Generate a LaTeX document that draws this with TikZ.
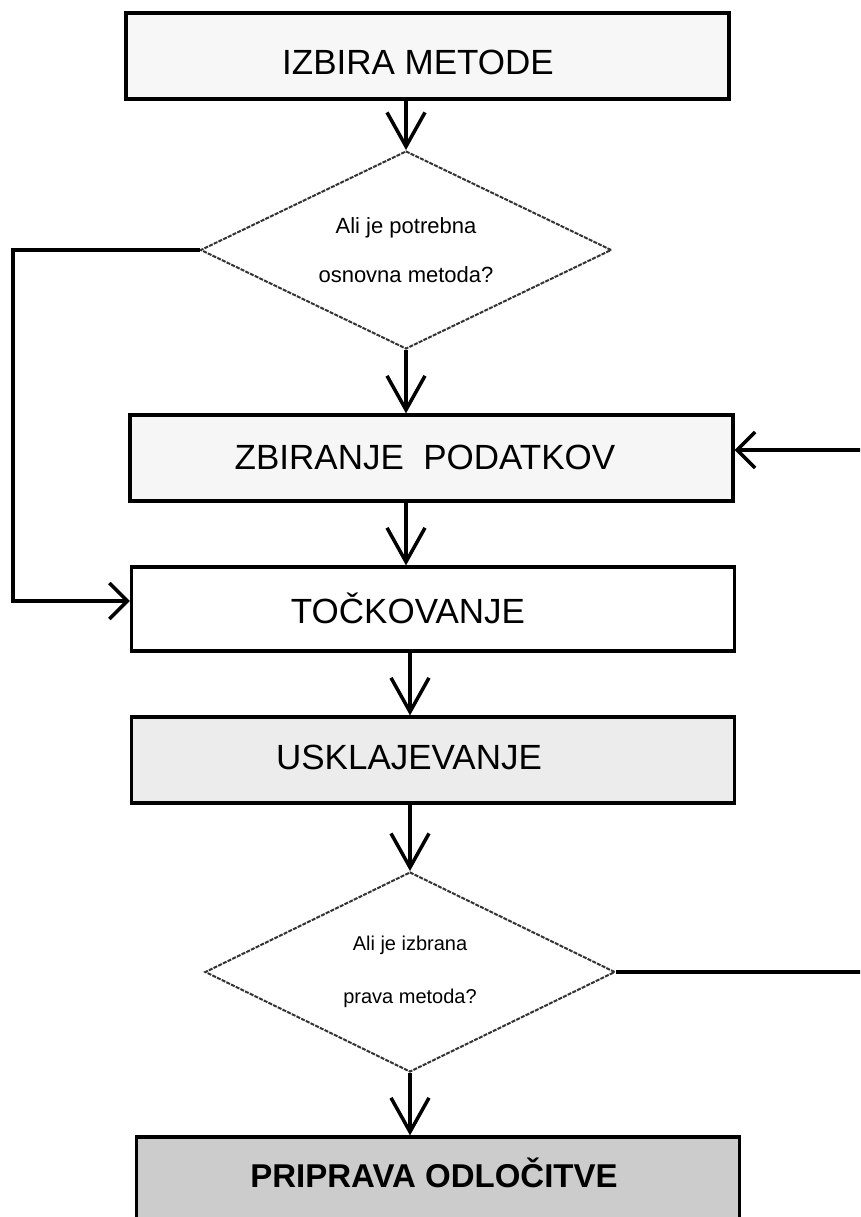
\documentclass[tikz,border=0pt]{standalone}
\usepackage{fontspec}
\setmainfont{Liberation Sans}
\usetikzlibrary{arrows.meta,shapes.geometric}
\begin{document}
\begin{tikzpicture}[x=1pt,y=-1pt,
  box/.style={draw=black, line width=3.2pt, inner sep=0pt, minimum width=603pt, minimum height=86pt},
  lbl/.style={font=\fontsize{35}{40}\selectfont, inner sep=0pt},
  dec/.style={diamond, aspect=2, draw=black!80, line width=2pt, dash pattern=on 4pt off 1.2pt, inner sep=0pt, minimum width=411pt, minimum height=198pt, align=center},
  wire/.style={line width=3.5pt, line join=miter},
  flow/.style={wire, -{Straight Barb[length=34pt,width=38pt]}},
  sidearrow/.style={wire, -{Straight Barb[length=18pt,width=36pt]}}
]
\useasboundingbox (0,0) rectangle (860,1217);
\clip (0,0) rectangle (860,1217);

% boxes
\node[box, fill=gray!6] (b1) at (427.5,56) {};
\node[lbl] (b1t) at (418,62) {IZBIRA METODE};

\node[dec, font=\fontsize{22}{49}\selectfont] (d1) at (406,250) {Ali je potrebna\\osnovna metoda?};

\node[box, fill=gray!7] (zb) at (431.5,458) {};
\node[lbl] (zbt) at (425,457) {ZBIRANJE\ \ PODATKOV};

\node[box, fill=white, minimum height=84pt] (to) at (433,609) {};
\node[lbl] (tot) at (408,608) {TOČKOVANJE};

\node[box, fill=gray!15] (us) at (433,760) {};
\node[lbl] (ust) at (409,757) {USKLAJEVANJE};

\node[dec, font=\fontsize{20}{53}\selectfont, minimum width=410pt, minimum height=200pt] (d2) at (410,972) {Ali je izbrana\\prava metoda?};

\node[box, fill=gray!40] (pr) at (438,1180) {};
\node[lbl, font=\fontsize{33}{40}\selectfont\bfseries] (prt) at (434,1173) {PRIPRAVA ODLOČITVE};

% vertical flow
\draw[flow] (b1.south -| d1.north) -- (d1.north);
\draw[flow] (d1.south) -- (d1.south |- zb.north);
\draw[flow] (zb.south -| d1.south) -- (to.north -| d1.south);
\draw[flow] (to.south -| d2.north) -- (us.north -| d2.north);
\draw[flow] (us.south -| d2.north) -- (d2.north);
\draw[flow] (d2.south) -- (d2.south |- pr.north);

% left loop
\coordinate (l1) at (13,250);
\coordinate (l2) at (13,601);
\draw[sidearrow] (d1.west) -- (l1) -- (l2) -- (l2 -| to.west);

% right loop (cut off at the picture edge)
\coordinate (r1) at (866,972);
\coordinate (r2) at (866,450);
\draw[wire] (d2.east) -- (r1);
\draw[sidearrow] (r2) -- (r2 -| zb.east);
\end{tikzpicture}
\end{document}
